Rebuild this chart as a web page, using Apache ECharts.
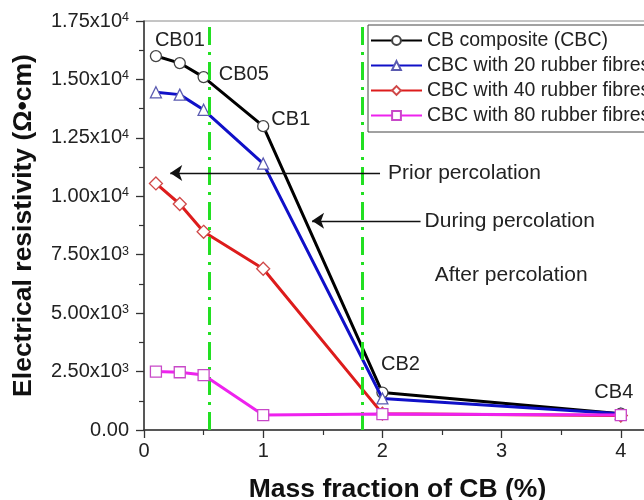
<!DOCTYPE html>
<html>
<head>
<meta charset="utf-8">
<script src="https://cdn.jsdelivr.net/npm/echarts@6/dist/echarts.min.js"></script>
<style>
  html, body { margin: 0; padding: 0; background: #fff; }
  #chart { width: 644px; height: 500px; }
</style>
</head>
<body>
<div id="chart"></div>
<script>
// Mass fraction of carbon black (%)
const massFraction = [0.1, 0.3, 0.5, 1, 2, 4];

// Electrical resistivity (Ω·cm) for each mix
const cbComposite = [16000, 15700, 15100, 13000, 1600, 700];
const cbc20Fibres = [14450, 14350, 13700, 11400, 1350, 700];
const cbc40Fibres = [10550, 9670, 8480, 6900, 700, 620];
const cbc80Fibres = [2500, 2470, 2350, 640, 680, 640];

const seriesNames = [
  'CB composite (CBC)',
  'CBC with 20 rubber fibres',
  'CBC with 40 rubber fibres',
  'CBC with 80 rubber fibres'
];

// Sample names written next to the CB composite points
const sampleNames = ['CB01', '', 'CB05', 'CB1', 'CB2', 'CB4'];

// Y tick labels: mantissa and exponent
const yTickValues = [0, 2500, 5000, 7500, 10000, 12500, 15000, 17500];
const yTickLabels = [
  ['0.00', ''], ['2.50x10', '3'], ['5.00x10', '3'], ['7.50x10', '3'],
  ['1.00x10', '4'], ['1.25x10', '4'], ['1.50x10', '4'], ['1.75x10', '4']
];
const xTickValues = [0, 1, 2, 3, 4];
const xTickLabels = ['0', '1', '2', '3', '4'];

// Boundaries of the percolation zone (% CB)
const percolationBounds = [0.55, 1.83];

// Annotation arrows: [fromX, toX, y, text, gap to text]
const arrowNotes = [
  [1.98, 0.22, 11000, 'Prior percolation', 8],
  [2.32, 1.41, 8950, 'During percolation', 4]
];
const zoneNote = [3.08, 6630, 'After percolation'];

const FONT = '"Liberation Sans", Arial, sans-serif';
const TICK_TXT = 20;
const LEGEND_TXT = 19.5;
const NOTE_TXT = 21;
const SAMPLE_TXT = 20;

const lineColors = ['#000000', '#1010c8', '#dd1c1c', '#ee22ee'];
const markerBorders = ['#444444', '#5a5ab0', '#d04848', '#c848c8'];
const markerShapes = ['circle', 'triangle', 'diamond', 'rect'];
const seriesValues = [cbComposite, cbc20Fibres, cbc40Fibres, cbc80Fibres];

// Per-point offsets for the sample name labels
const sampleLabelPlacement = [
  { position: 'top', offset: [24, 6] },
  null,
  { position: 'right', offset: [4, -3] },
  { position: 'right', offset: [-3, -7] },
  { position: 'top', offset: [18, -7] },
  { position: 'top', offset: [-7, 0] }
];

function buildData(values, withNames) {
  return values.map((v, i) => {
    const item = { value: [massFraction[i], v] };
    if (withNames && sampleNames[i]) {
      const p = sampleLabelPlacement[i];
      item.label = {
        show: true,
        formatter: sampleNames[i],
        position: p.position,
        offset: p.offset,
        fontFamily: FONT,
        fontSize: SAMPLE_TXT,
        color: '#222'
      };
    }
    return item;
  });
}

const series = seriesValues.map((vals, k) => ({
  name: seriesNames[k],
  type: 'line',
  data: buildData(vals, k === 0),
  symbol: markerShapes[k],
  symbolSize: k === 2 ? 13 : 11,
  z: 2 + k,
  lineStyle: { color: lineColors[k], width: 3 },
  itemStyle: { color: '#ffffff', borderColor: markerBorders[k], borderWidth: 1.3 },
  emphasis: { disabled: true },
  animation: false
}));

// Percolation boundaries
series.push({
  name: 'bounds',
  type: 'line',
  data: [],
  silent: true,
  animation: false,
  markLine: {
    silent: true,
    animation: false,
    symbol: 'none',
    label: { show: false },
    lineStyle: { color: '#22e022', width: 3, type: [18, 7, 3, 7] },
    data: percolationBounds.map(x => ({ xAxis: x }))
  }
});
// Annotation arrows and zone text
series.push({
  name: 'arrows',
  type: 'line',
  data: [],
  silent: true,
  animation: false,
  markLine: {
    silent: true,
    animation: false,
    symbol: ['none', 'arrow'],
    symbolSize: 12,
    lineStyle: { color: '#111', width: 1.4, type: 'solid' },
    label: {
      show: true,
      position: 'start',
      fontFamily: FONT,
      fontSize: NOTE_TXT,
      color: '#222'
    },
    data: arrowNotes.map(a => [
      { coord: [a[0], a[2]], label: { formatter: a[3], distance: a[4] } },
      { coord: [a[1], a[2]] }
    ])
  },
  markPoint: {
    silent: true,
    animation: false,
    symbol: 'circle',
    symbolSize: 0,
    label: {
      show: true,
      position: 'inside',
      formatter: zoneNote[2],
      fontFamily: FONT,
      fontSize: NOTE_TXT,
      color: '#222'
    },
    data: [{ coord: [zoneNote[0], zoneNote[1]] }]
  }
});

const chart = echarts.init(document.getElementById('chart'), null, { renderer: 'canvas' });

chart.setOption({
  backgroundColor: '#ffffff',
  animation: false,
  textStyle: { fontFamily: FONT },
  grid: {
    left: 144,
    top: 21,
    width: 596,
    height: 409,
    show: true,
    borderColor: '#8a8a8a',
    borderWidth: 1,
    containLabel: false,
    outerBoundsMode: 'none'
  },
  legend: {
    data: seriesNames,
    orient: 'vertical',
    left: 368,
    top: 25,
    backgroundColor: '#ffffff',
    borderColor: '#444',
    borderWidth: 1,
    borderRadius: 0,
    padding: [5, 40, 6, 2],
    itemWidth: 51,
    itemHeight: 11,
    itemGap: 4,
    textStyle: { fontFamily: FONT, fontSize: LEGEND_TXT, color: '#222', lineHeight: 21 },
    selectedMode: false
  },
  xAxis: {
    type: 'value',
    min: 0,
    max: 5,
    interval: 1,
    name: 'Mass fraction of CB (%)',
    nameLocation: 'middle',
    nameGap: 46,
    nameTextStyle: {
      fontFamily: FONT, fontSize: 26.5, fontWeight: 'bold', color: '#111',
      padding: [0, 89, 0, 0]
    },
    axisLine: { show: true, lineStyle: { color: '#333', width: 1.5 } },
    axisTick: { show: true, inside: false, length: 8, lineStyle: { color: '#333', width: 1.3 } },
    minorTick: { show: true, splitNumber: 2, length: 5, lineStyle: { color: '#333', width: 1.2 } },
    splitLine: { show: false },
    axisLabel: {
      margin: 11,
      fontFamily: FONT,
      fontSize: TICK_TXT,
      color: '#222',
      formatter: v => {
        const i = xTickValues.indexOf(v);
        return i >= 0 ? xTickLabels[i] : '';
      }
    }
  },
  yAxis: {
    type: 'value',
    min: 0,
    max: 17500,
    interval: 2500,
    name: 'Electrical resistivity (Ω•cm)',
    nameLocation: 'middle',
    nameRotate: 90,
    nameGap: 107,
    nameTextStyle: { fontFamily: FONT, fontSize: 26.5, fontWeight: 'bold', color: '#111' },
    axisLine: { show: true, lineStyle: { color: '#333', width: 1.5 } },
    axisTick: { show: true, inside: false, length: 8, lineStyle: { color: '#333', width: 1.3 } },
    minorTick: { show: true, splitNumber: 2, length: 5, lineStyle: { color: '#333', width: 1.2 } },
    splitLine: { show: false },
    axisLabel: {
      margin: 15,
      fontFamily: FONT,
      fontSize: TICK_TXT,
      color: '#222',
      formatter: v => {
        const i = yTickValues.indexOf(v);
        if (i < 0) return '';
        const [m, e] = yTickLabels[i];
        return e ? '{m|' + m + '}{e|' + e + '}' : '{m|' + m + '}';
      },
      rich: {
        m: { fontFamily: FONT, fontSize: TICK_TXT, color: '#222' },
        e: { fontFamily: FONT, fontSize: 12.5, color: '#222', verticalAlign: 'top' }
      }
    }
  },
  series: series
});
</script>
</body>
</html>
